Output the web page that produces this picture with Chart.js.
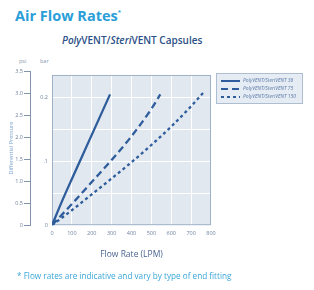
<!DOCTYPE html>
<html>
<head>
<meta charset="utf-8">
<title>Air Flow Rates</title>
<script src="https://cdn.jsdelivr.net/npm/chart.js"></script>
<style>
  body { margin: 0; width: 314px; height: 290px; position: relative; overflow: hidden; background: #fff; font-family: "Open Sans", sans-serif; }
  #wrap { position: absolute; left: 0; top: 0; width: 314px; height: 290px; }
  .title { position: absolute; left: 15px; top: 6px; margin: 0; font-size: 14.5px; font-weight: 700; color: #2a9ed8; }
  .title sup { font-size: 6px; vertical-align: 7px; }
  .sub { position: absolute; left: 62px; top: 33px; font-size: 10px; font-weight: 600; color: #2c4f86; }
  .unit { position: absolute; top: 57px; font-size: 5.5px; color: #8a9ab0; }
  .note { position: absolute; left: 17px; top: 270px; font-size: 8.2px; color: #3aa6d8; }
</style>
</head>
<body>
    <div class="title">Air Flow Rates<sup>*</sup></div>
    <div class="sub"><i>Poly</i>VENT/<i>Steri</i>VENT Capsules</div>
    <span class="unit" style="left:19px">psi</span>
    <span class="unit" style="left:40px">bar</span>
    <div id="wrap"><canvas id="flowChart"></canvas></div>
    <div class="note">* Flow rates are indicative and vary by type of end fitting</div>

    <script>
        // values (flow in LPM, pressure in psi)
        const seriesNames = ['PolyVENT/SteriVENT 36', 'PolyVENT/SteriVENT 75', 'PolyVENT/SteriVENT 150'];
        const flow36 = [0, 50, 100, 150, 200, 250, 292];
        const psi36 = [0, 0.54, 1.05, 1.55, 2.05, 2.55, 2.97];
        const flow75 = [0, 100, 200, 300, 400, 500, 545];
        const psi75 = [0, 0.48, 0.98, 1.48, 2.02, 2.64, 2.97];
        const flow150 = [0, 100, 200, 300, 400, 500, 600, 700, 760];
        const psi150 = [0, 0.34, 0.7, 1.06, 1.43, 1.82, 2.24, 2.7, 3.0];
        const barLabels = { 0: '0', 0.1: '.1', 0.2: '0.2' };

        const PSI_PER_BAR = 14.5038;
        const lineBlue = '#2f5d9c';

        function points(xs, ys) {
            return xs.map((x, i) => ({ x: x, y: ys[i] }));
        }

        // grey-blue plot panel and its frame
        const panel = {
            id: 'panel',
            beforeDraw(chart) {
                const a = chart.chartArea, ctx = chart.ctx;
                const top = chart.scales.psi.getPixelForValue(3.41);
                ctx.save();
                ctx.fillStyle = '#e1e8ef';
                ctx.fillRect(a.left, top, a.right - a.left, a.bottom - top);
                ctx.restore();
            },
            beforeDatasetsDraw(chart) {
                const a = chart.chartArea, ctx = chart.ctx;
                const top = chart.scales.psi.getPixelForValue(3.41);
                ctx.save();
                ctx.strokeStyle = '#9fb1c7';
                ctx.lineWidth = 1;
                ctx.strokeRect(a.left + 0.5, top + 0.5, a.right - a.left - 1, a.bottom - top - 1);
                ctx.restore();
            }
        };

        // boxed legend beside the plot
        const boxLegend = {
            id: 'boxLegend',
            afterDraw(chart) {
                const ctx = chart.ctx;
                ctx.save();
                ctx.fillStyle = '#e6ecf3';
                ctx.strokeStyle = '#aebdd0';
                ctx.lineWidth = 1;
                ctx.fillRect(216, 73, 87, 31);
                ctx.strokeRect(216.5, 73.5, 86, 30);
                chart.data.datasets.forEach((ds, i) => {
                    const y = 81 + i * 8;
                    ctx.strokeStyle = ds.borderColor;
                    ctx.lineWidth = 2;
                    ctx.setLineDash(ds.borderDash || []);
                    ctx.beginPath();
                    ctx.moveTo(221, y);
                    ctx.lineTo(240, y);
                    ctx.stroke();
                    ctx.setLineDash([]);
                    ctx.fillStyle = '#5a78a8';
                    ctx.font = 'italic 5px "Open Sans"';
                    ctx.textBaseline = 'middle';
                    ctx.fillText(ds.label, 243, y);
                });
                ctx.restore();
            }
        };

        const ctx = document.getElementById('flowChart').getContext('2d');
        new Chart(ctx, {
            type: 'line',
            data: {
                datasets: [{
                    label: seriesNames[0],
                    data: points(flow36, psi36),
                    borderColor: lineBlue,
                    borderWidth: 2.3,
                    yAxisID: 'psi'
                }, {
                    label: seriesNames[1],
                    data: points(flow75, psi75),
                    borderColor: lineBlue,
                    borderWidth: 2.3,
                    borderDash: [7, 4],
                    yAxisID: 'psi'
                }, {
                    label: seriesNames[2],
                    data: points(flow150, psi150),
                    borderColor: lineBlue,
                    borderWidth: 2.3,
                    borderDash: [3, 3],
                    yAxisID: 'psi'
                }]
            },
            options: {
                responsive: true,
                maintainAspectRatio: false,
                animation: false,
                layout: { padding: { left: 0, right: 103, top: 71, bottom: 26 } },
                elements: {
                    point: { radius: 0 },
                    line: { cubicInterpolationMode: 'monotone', fill: false }
                },
                plugins: {
                    legend: { display: false },
                    tooltip: { enabled: false }
                },
                scales: {
                    x: {
                        type: 'linear',
                        min: 0,
                        max: 800,
                        ticks: { stepSize: 100, padding: 5, color: '#6f82a0', font: { size: 5.5, family: 'Open Sans' } },
                        grid: { color: '#ffffff', drawTicks: false },
                        border: { display: false },
                        title: {
                            display: true,
                            text: 'Flow Rate (LPM)',
                            color: '#4a6590',
                            font: { size: 8.5, family: 'Open Sans' },
                            padding: { top: 8, bottom: 4 }
                        }
                    },
                    psi: {
                        type: 'linear',
                        position: 'left',
                        weight: 2,
                        min: 0,
                        max: 3.5,
                        afterFit(scale) { scale.width = 30; },
                        ticks: {
                            stepSize: 0.5,
                            padding: 1,
                            color: '#6f82a0',
                            font: { size: 5.5, family: 'Open Sans' },
                            callback: v => v === 0 ? '0' : v.toFixed(1)
                        },
                        grid: { drawOnChartArea: false, tickLength: 6, color: '#8394ad' },
                        border: { display: true, color: '#8394ad' },
                        title: {
                            display: true,
                            text: 'Differential Pressure',
                            color: '#7fa6cf',
                            font: { size: 5.5, family: 'Open Sans' },
                            padding: { top: 8, bottom: 0 }
                        }
                    },
                    bar: {
                        type: 'linear',
                        position: 'left',
                        weight: 1,
                        min: 0,
                        max: 3.5 / PSI_PER_BAR,
                        afterFit(scale) { scale.width = 22; },
                        ticks: {
                            stepSize: 0.05,
                            includeBounds: false,
                            padding: 4,
                            color: '#6f82a0',
                            font: { size: 5.5, family: 'Open Sans' },
                            callback: v => barLabels[Math.round(v * 100) / 100] || ''
                        },
                        grid: { color: '#ffffff', drawTicks: false },
                        border: { display: false }
                    }
                }
            },
            plugins: [panel, boxLegend]
        });
    </script>
</body>
</html>
